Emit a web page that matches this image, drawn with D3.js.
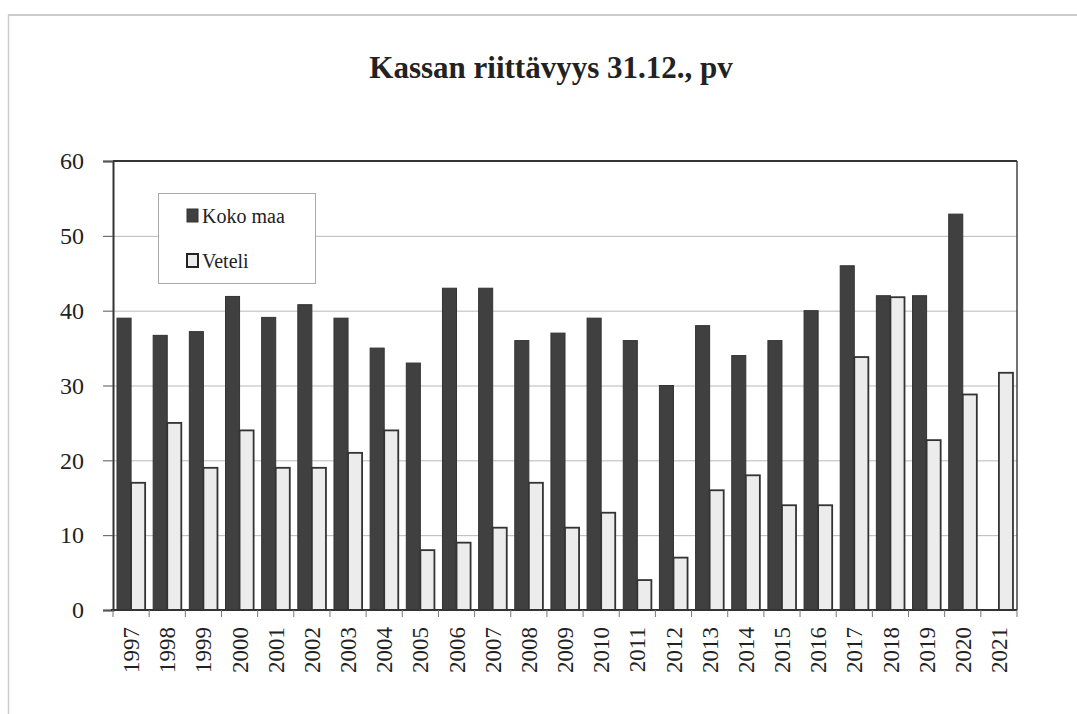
<!DOCTYPE html>
<html><head><meta charset="utf-8">
<script src="https://cdn.jsdelivr.net/npm/d3@7"></script>
<style>body{margin:0;background:#fff}svg{display:block}svg text{font-family:"Liberation Serif","DejaVu Serif",serif}</style>
</head><body>
<script>
const years = ["1997","1998","1999","2000","2001","2002","2003","2004","2005","2006","2007","2008","2009","2010","2011","2012","2013","2014","2015","2016","2017","2018","2019","2020","2021"];
const kokoMaa = [39,36.7,37.2,41.9,39.1,40.8,39,35,33,43,43,36,37,39,36,30,38,34,36,40,46,42,42,52.9,0];
const veteli = [17,25,19,24,19,19,21,24,8,9,11,17,11,13,4,7,16,18,14,14,33.8,41.8,22.7,28.8,31.7];
const yTicks = [0,10,20,30,40,50,60];
const seriesNames = ["Koko maa","Veteli"];
const title = "Kassan riittävyys 31.12., pv";

const W=1077,H=714;
const svg=d3.select("body").append("svg").attr("width",W).attr("height",H);
const font='"Liberation Serif","DejaVu Serif",serif';
// page frame
svg.append("line").attr("x1",8).attr("x2",W).attr("y1",15).attr("y2",15).attr("stroke","#bbb").attr("stroke-width",1.5);
svg.append("line").attr("x1",8.5).attr("x2",8.5).attr("y1",15).attr("y2",H).attr("stroke","#ccc").attr("stroke-width",1.5);

const L=113,R=1017,T=161,B=610;
const x=d3.scaleBand().domain(years).range([L,R]).paddingInner(0.2222).paddingOuter(0.1111);
const y=d3.scaleLinear().domain([0,60]).range([B,T]);
const bw=x.bandwidth()/2;

// grid
svg.append("g").selectAll("line").data(yTicks.filter(t=>t>0&&t<60)).join("line")
  .attr("x1",L).attr("x2",R).attr("y1",d=>y(d)+0.5).attr("y2",d=>y(d)+0.5)
  .attr("stroke","#b8b8b8").attr("stroke-width",1);

// bars
svg.append("g").selectAll("rect").data(years.map((yr,i)=>({yr,v:kokoMaa[i]})).filter(d=>d.v>0)).join("rect")
  .attr("x",d=>x(d.yr)).attr("width",bw).attr("y",d=>y(d.v)).attr("height",d=>B-y(d.v))
  .attr("fill","#404040").attr("stroke","#333").attr("stroke-width",1);
svg.append("g").selectAll("rect").data(years.map((yr,i)=>({yr,v:veteli[i]}))).join("rect")
  .attr("x",d=>x(d.yr)+bw).attr("width",bw).attr("y",d=>y(d.v)).attr("height",d=>B-y(d.v))
  .attr("fill","#ececec").attr("stroke","#333").attr("stroke-width",1.8);

// frame
svg.append("line").attr("x1",L).attr("x2",R).attr("y1",T).attr("y2",T).attr("stroke","#333").attr("stroke-width",2);
svg.append("line").attr("x1",R).attr("x2",R).attr("y1",T).attr("y2",B).attr("stroke","#444").attr("stroke-width",1.5);

// y axis
const ya=svg.append("g").attr("transform",`translate(${L},0)`).call(d3.axisLeft(y).tickValues(yTicks).tickSize(10).tickPadding(19));
ya.attr("font-family",null).attr("font-size",null);
ya.select(".domain").attr("stroke","#333").attr("stroke-width",2);
ya.selectAll(".tick line").attr("stroke","#555");
ya.selectAll("text").style("font-family",font).style("font-size","24px").attr("fill","#222");

// x axis
const xa=svg.append("g").attr("transform",`translate(0,${B})`).call(d3.axisBottom(x).tickSize(0).tickPadding(0));
xa.attr("font-family",null).attr("font-size",null);
xa.select(".domain").remove();
xa.selectAll("text").style("font-family",font).style("font-size","23px").attr("fill","#222")
  .attr("transform","rotate(-90)").attr("text-anchor","end").attr("dy","0.35em").attr("x",-17).attr("y",0);
svg.append("line").attr("x1",L-2).attr("x2",R).attr("y1",B).attr("y2",B).attr("stroke","#333").attr("stroke-width",2);
svg.append("g").selectAll("line").data(years.concat(["end"])).join("line")
  .attr("x1",(d,i)=>L+i*(R-L)/years.length).attr("x2",(d,i)=>L+i*(R-L)/years.length)
  .attr("y1",B).attr("y2",B+7).attr("stroke","#777").attr("stroke-width",1);

// title
svg.append("text").attr("x",551).attr("y",78).attr("text-anchor","middle")
  .style("font-family",font).style("font-weight","bold").style("font-size","31px").attr("fill","#222").text(title);

// legend
const lg=svg.append("g");
lg.append("rect").attr("x",158.5).attr("y",193.5).attr("width",157).attr("height",90).attr("fill","#fff").attr("stroke","#aaa");
const lcol=[{f:"#404040",s:"#333",sw:1},{f:"#ececec",s:"#222",sw:2}];
seriesNames.forEach((n,i)=>{
  const yy=[216,261][i];
  lg.append("rect").attr("x",187).attr("y",yy-7).attr("width",11).attr("height",13).attr("fill",lcol[i].f).attr("stroke",lcol[i].s).attr("stroke-width",lcol[i].sw);
  lg.append("text").attr("x",202).attr("y",yy+7).style("font-family",font).style("font-size","20px").attr("fill","#222").text(n);
});
</script>
</body></html>
